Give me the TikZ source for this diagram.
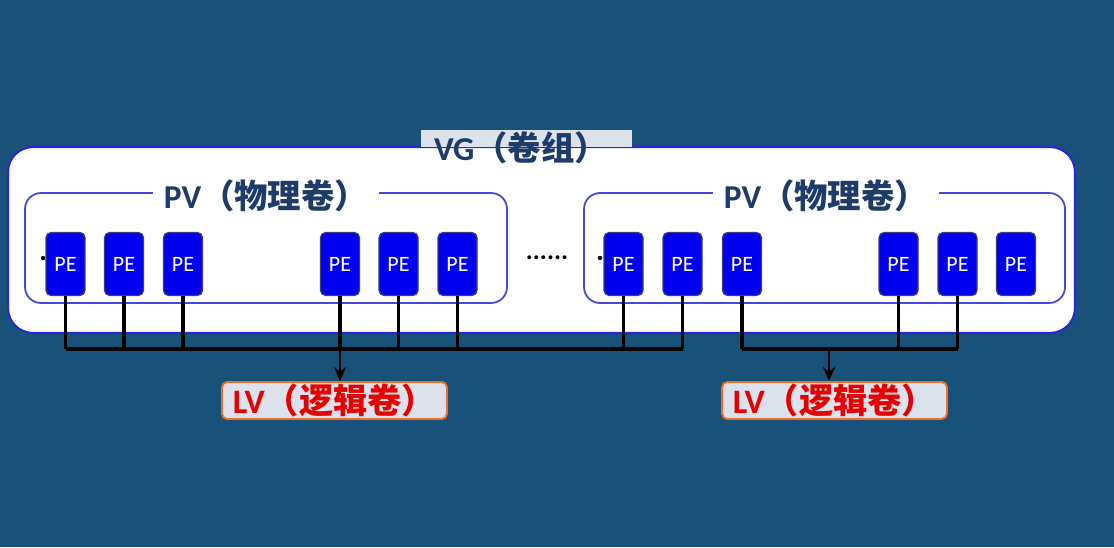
\documentclass[tikz,border=0pt]{standalone}
\usepackage{fontspec}
\setmainfont{Carlito}
\newfontfamily\cjk{Noto Sans CJK SC}
\usetikzlibrary{arrows.meta}
\definecolor{bgblue}{RGB}{25,82,120}
\definecolor{vgborder}{RGB}{40,40,210}
\definecolor{pvborder}{RGB}{70,70,225}
\definecolor{pefill}{RGB}{0,0,238}
\definecolor{peborder}{RGB}{60,60,120}
\definecolor{labeltext}{RGB}{30,60,105}
\definecolor{labelgray}{RGB}{220,226,236}
\definecolor{lvborder}{RGB}{238,110,40}
\definecolor{lvtext}{RGB}{232,0,0}
\tikzset{
  pebox/.style={rectangle, rounded corners=3pt, fill=pefill, draw=peborder, line width=0.8pt,
    minimum width=0.78cm, minimum height=1.26cm, inner sep=0pt, text=white,
    font=\fontsize{12.5}{14}\selectfont},
  pvbox/.style={draw=pvborder, line width=1pt, rounded corners=0.32cm},
  pvlabel/.style={fill=white, text=labeltext, minimum width=4.54cm, inner sep=1pt,
    font=\fontsize{19}{22}\selectfont\bfseries},
  lvbox/.style={rectangle, rounded corners=3pt, fill=labelgray, draw=lvborder, line width=1.1pt,
    minimum width=4.5cm, minimum height=0.74cm, inner sep=0pt, text=lvtext,
    font=\fontsize{19.5}{22}\selectfont\bfseries},
  wire/.style={line width=1.8pt, black},
  arrowwire/.style={line width=1.3pt, black, -{Stealth[length=8pt,width=7pt]}},
  dotsmall/.style={circle, fill=black, inner sep=0pt, minimum size=2.5pt}
}
\begin{document}
\begin{tikzpicture}[x=0.02cm,y=-0.02cm]
\fill[bgblue] (0,0) rectangle (1114,547);
\useasboundingbox (0,0) rectangle (1114,547);
% VG
\draw[fill=white, draw=vgborder, line width=1.2pt, rounded corners=0.5cm] (8,147) rectangle (1075,333);
\fill[labelgray] (421,130) rectangle (632,147.5);
\node[text=labeltext, font=\fontsize{19}{22}\selectfont\bfseries] (vglabel) at (521,148) {VG{\cjk （卷组）}};
% PV boxes
\draw[pvbox] (25,193) rectangle (507,303);
\draw[pvbox] (584,193) rectangle (1065,303);
\node[pvlabel] (pvL) at (266,196) {PV{\cjk （物理卷）}};
\node[pvlabel] (pvR) at (826,196) {PV{\cjk （物理卷）}};
% hidden dots
\node[dotsmall] (dL) at (43,258) {};
\node[dotsmall] (dR) at (600,258) {};
\node[font=\fontsize{15}{17}\selectfont\bfseries] (mid) at (547,258) {......};
% PEs
\foreach \n/\x in {1/65.5,2/124,3/183,4/340,5/398.5,6/457.5,7/623.5,8/682.5,9/742,10/898.5,11/957.5,12/1016}{
  \node[pebox] (pe\n) at (\x,264) {PE};
}
% LV boxes
\node[lvbox] (lvL) at (334.5,400.5) {LV{\cjk （逻辑卷）}};
\node[lvbox] (lvR) at (834.5,400.5) {LV{\cjk （逻辑卷）}};
% buses
\coordinate (busL) at (0,349);
\coordinate (arrR) at (829,349);
\foreach \n in {1,2,3,4,5,6,7,8,9,10,11}{
  \draw[wire] (pe\n.south) -- (pe\n.south |- busL);
}
\draw[wire] (pe1.south |- busL) -- (pe8.south |- busL);
\draw[wire] (pe9.south |- busL) -- (pe11.south |- busL);
\draw[arrowwire] (pe4.south |- busL) -- (pe4.south |- lvL.north);
\draw[arrowwire] (arrR) -- (arrR |- lvR.north);
\end{tikzpicture}
\end{document}
